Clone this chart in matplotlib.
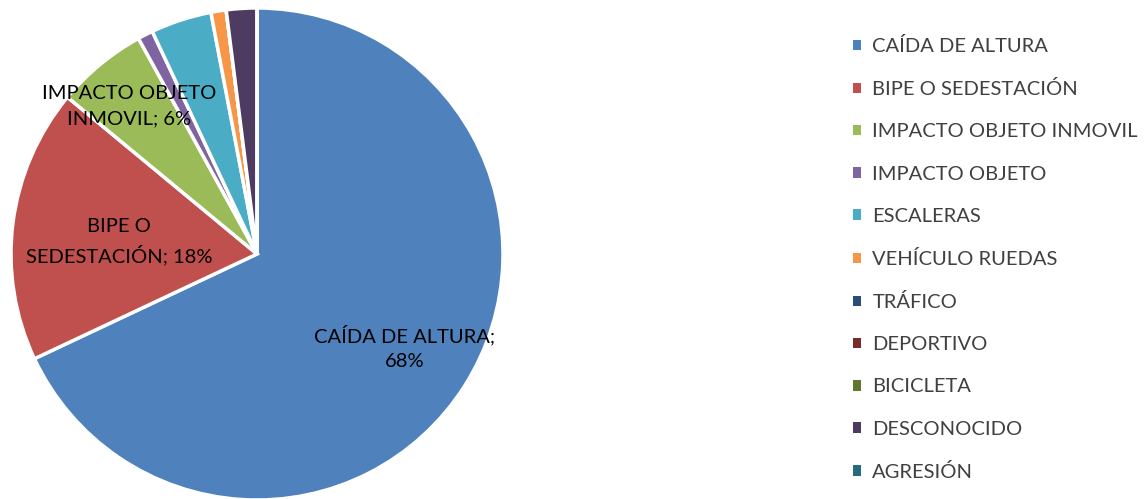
import numpy as np
import matplotlib
matplotlib.use("Agg")
import matplotlib.pyplot as plt
from matplotlib.patches import Patch


# Causas (porcentaje de casos)
causas = ['CAÍDA DE ALTURA', 'BIPE O SEDESTACIÓN', 'IMPACTO OBJETO INMOVIL',
          'IMPACTO OBJETO', 'ESCALERAS', 'VEHÍCULO RUEDAS', 'TRÁFICO',
          'DEPORTIVO', 'BICICLETA', 'DESCONOCIDO', 'AGRESIÓN']
porcentajes = [68, 18, 6, 1, 4, 1, 0, 0, 0, 2, 0]
colores = ['#4F81BD', '#C0504D', '#9BBB59', '#8064A2', '#4BACC6', '#F79646',
           '#2C4D75', '#772C2A', '#5F7530', '#4D3B62', '#276A7C']

# etiquetas dentro del pastel (solo las tres primeras)
etiquetas = {0: 'CAÍDA DE ALTURA;\n68%',
             1: 'BIPE O\nSEDESTACIÓN; 18%',
             2: 'IMPACTO OBJETO\nINMOVIL; 6%'}
pos_etiqueta = {0: (0.60, -0.38), 1: (-0.56, 0.05), 2: (-0.52, 0.60)}

plt.rcParams['font.family'] = ['Lato', 'DejaVu Sans']

fig = plt.figure(figsize=(11.45, 4.99), dpi=100)
ax = fig.add_axes([0.0096, -0.002, 0.4297, 0.986])

wedges, _ = ax.pie(porcentajes, colors=colores, startangle=90, counterclock=False,
                   radius=1.0,
                   wedgeprops=dict(edgecolor='white', linewidth=2.5))
ax.set_xlim(-1, 1)
ax.set_ylim(-1, 1)
ax.set_aspect('equal')
ax.axis('off')

for i, txt in etiquetas.items():
    x, y = pos_etiqueta[i]
    ax.text(x, y, txt, ha='center', va='center',
            fontsize=14.5, color='black', linespacing=1.6)

handles = [Patch(facecolor=c, edgecolor='none') for c in colores]
fig.legend(handles, causas, loc='upper left', bbox_to_anchor=(0.729, 0.962),
           frameon=False, fontsize=14.5, handlelength=0.42, handleheight=0.42,
           handletextpad=0.55, labelspacing=1.25, labelcolor='#404040')

fig.savefig('out.png', dpi=100)
